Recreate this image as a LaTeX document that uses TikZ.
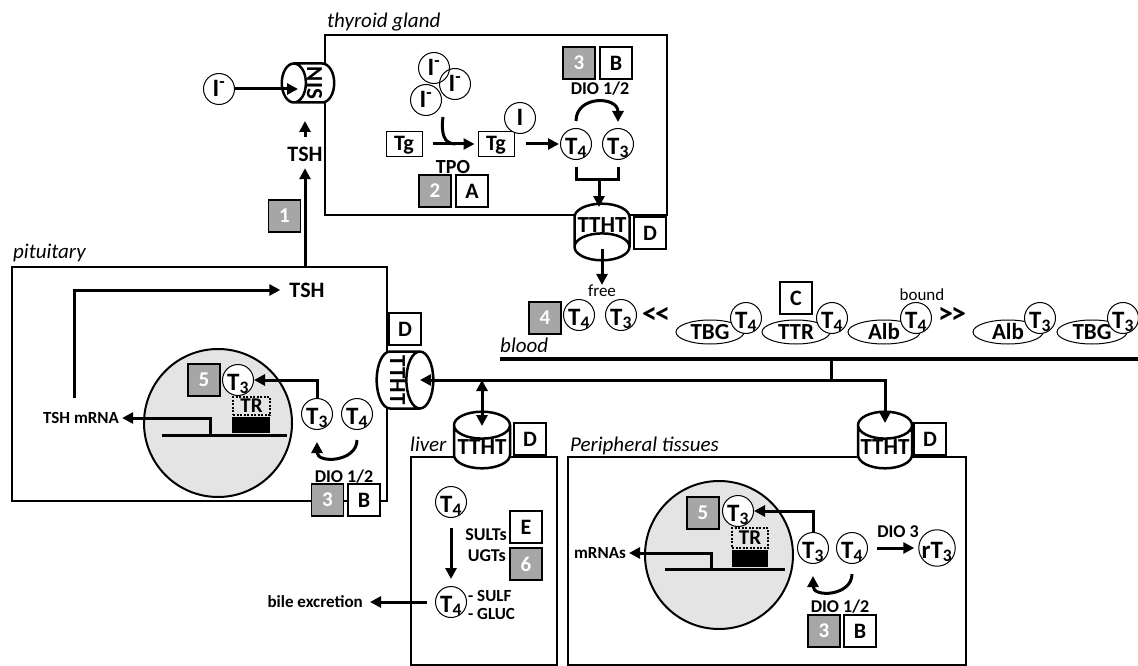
\documentclass[tikz,border=0pt]{standalone}
\usepackage{fontspec}
\setmainfont{Carlito}
\usetikzlibrary{shapes.geometric,arrows.meta,calc}
\definecolor{boxgray}{RGB}{166,166,166}
\definecolor{nucgray}{RGB}{228,228,228}
\newcommand{\hT}[1]{T\textsubscript{#1}}
\newcommand{\ionI}{I\textsuperscript{-}}
\tikzset{
  region/.style={draw, line width=2pt, inner sep=0pt},
  regionname/.style={anchor=base west, inner sep=0pt, font=\fontsize{21}{24}\selectfont\itshape},
  letterbox/.style={draw, line width=1.6pt, fill=white, minimum size=32pt, inner sep=0pt, font=\fontsize{22}{24}\selectfont\bfseries},
  numbox/.style={letterbox, fill=boxgray, text=white, font=\fontsize{21}{24}\selectfont\bfseries},
  hormone/.style={circle, draw, line width=1pt, fill=white, minimum size=31pt, inner sep=0pt, text height=20pt, text depth=0pt, font=\fontsize{25}{26}\selectfont\bfseries},
  iodide/.style={hormone, fill=none, text height=15pt},
  carrier/.style={ellipse, draw, line width=1pt, fill=white, inner sep=0pt, minimum width=68pt, minimum height=24pt, text height=14pt, text depth=0pt, font=\fontsize{23}{24}\selectfont\bfseries},
  transporter/.style={cylinder, draw, line width=2.5pt, fill=white, inner sep=0pt, aspect=0.55, anchor=shape center, text height=15pt, text depth=0pt, font=\fontsize{23}{24}\selectfont\bfseries},
  tgbox/.style={draw, line width=1pt, minimum width=36pt, minimum height=25pt, inner sep=0pt, text height=14pt, text depth=0pt, font=\fontsize{22}{24}\selectfont\bfseries},
  bigl/.style={inner sep=0pt, text height=14pt, text depth=0pt, font=\fontsize{22}{24}\selectfont\bfseries},
  compare/.style={inner sep=0pt, font=\fontsize{30}{32}\selectfont\bfseries},
  lbl/.style={inner sep=0pt, font=\fontsize{17}{20}\selectfont\bfseries},
  diol/.style={inner sep=0pt, font=\fontsize{18}{20}\selectfont\bfseries},
  smalltext/.style={inner sep=0pt, font=\fontsize{17}{20}\selectfont},
  receptor/.style={draw, dash pattern=on 2pt off 1.5pt, line width=1.5pt, minimum width=37pt, minimum height=18pt, inner sep=0pt, text height=13pt, text depth=0pt, font=\fontsize{21}{24}\selectfont\bfseries},
  gene/.style={fill=black, minimum width=38pt, minimum height=16pt, inner sep=0pt},
  nucleus/.style={circle, draw, fill=nucgray, line width=2pt, minimum size=148pt, inner sep=0pt},
  arr/.style={line width=3pt, -{Triangle[length=11pt,width=11pt]}},
  dblarr/.style={line width=3pt, {Triangle[length=11pt,width=11pt]}-{Triangle[length=11pt,width=11pt]}},
}
\begin{document}
\begin{tikzpicture}[x=1pt,y=-1pt]
\useasboundingbox (0,0) rectangle (1138,666);
% regions
\node[region, minimum width=342pt, minimum height=180pt] (thy) at (496,125) {};
\node[regionname] (thyname) at (327,28) {thyroid gland};
\node[region, minimum width=375pt, minimum height=234pt] (pit) at (199.5,384) {};
\node[regionname] (pitname) at (13,258) {pituitary};
\node[region, minimum width=146pt, minimum height=208pt] (liv) at (484,561) {};
\node[regionname] (livname) at (410,451) {liver};
\node[region, minimum width=398pt, minimum height=208pt] (per) at (767,561) {};
\node[regionname] (pername) at (570,451) {Peripheral tissues};

% thyroid gland
\node[iodide] (iout) at (219,89) {\ionI};
\node[transporter, aspect=0.75, rotate=-90, shape border rotate=270, minimum width=39pt, minimum height=48pt] (nis) at (308,83) {NIS};
\node[bigl] (tshthy) at (305,154) {TSH};
\node[numbox] (n1) at (284.5,216) {1};
\node[iodide] (ia) at (434,68) {\ionI};
\node[iodide] (ib) at (455,84) {\ionI};
\node[iodide] (ic) at (426,100) {\ionI};
\node[tgbox] (tga) at (404,144) {Tg};
\node[tgbox] (tgb) at (496,144) {Tg};
\node[iodide, fill=white] (iod) at (520,118) {I};
\node[hormone] (t4thy) at (576,144) {\hT{4}};
\node[hormone] (t3thy) at (618,144) {\hT{3}};
\node[diol] (diothy) at (600,89) {DIO 1/2};
\node[numbox] (n3thy) at (579,63) {3};
\node[letterbox] (bthy) at (616,63) {B};
\node[bigl, font=\fontsize{20}{22}\selectfont\bfseries] (tpo) at (453,167) {TPO};
\node[numbox] (n2) at (435,191) {2};
\node[letterbox] (la) at (472,191) {A};
\node[transporter, shape border rotate=270, minimum width=55pt, minimum height=49pt] (ttthy) at (602,232) {TTHT};
\node[letterbox] (dthy) at (650,233) {D};
\coordinate (brk) at (599,179);
\draw[arr, shorten >=10pt] (iout.east) -- (iout -| nis.shape center);
\draw[arr, shorten <=10pt, shorten >=38pt] (tshthy.north) -- (tshthy.north |- nis.shape center);
\draw[arr, shorten >=7pt] (tshthy |- pit.north) -- (tshthy.south);
\draw[arr, shorten <=10pt, shorten >=3pt] (tga) -- (tgb);
\draw[line width=3pt] ([shift={(17,17)}]ic.center) .. controls +(-2,16) and +(-12,0) .. ($(tga.east)!0.6!(tgb.west)$);
\draw[arr, shorten <=11pt, shorten >=1pt] (tgb) -- (t4thy);
\draw[arr] ([yshift=7pt]t4thy.north) .. controls +(0,-26) and +(0,-26) .. ([yshift=6pt]t3thy.north);
\draw[line width=3pt] ([yshift=-7pt]t4thy.south) -- (t4thy.south |- brk) -- (t3thy.south |- brk) -- ([yshift=-7pt]t3thy.south);
\draw[arr, shorten >=25pt] (brk) -- (brk |- ttthy.shape center);

% pituitary
\node[bigl] (tshpit) at (307,290) {TSH};
\node[lbl] (tshm) at (81,418) {TSH mRNA};
\coordinate (mstart) at (74,398);
\draw[arr, shorten >=9pt] (mstart) |- (tshpit.west);
\node[nucleus] (nucp) at (218,423) {};
\coordinate (gpa) at (162,435);
\coordinate (gpb) at (287,435);
\coordinate (gbp) at (210,435);
\node[gene] (repp) at (251,425) {};
\node[receptor] (trp) at (251.5,406) {TR};
\draw[line width=3pt] (gpa) -- (gpb);
\draw[arr, shorten >=3pt] (gbp) |- (tshm.east);
\node[numbox] (n5p) at (204,380) {5};
\node[hormone] (t3np) at (238,380) {\hT{3}};
\node[hormone] (t3p) at (317,414) {\hT{3}};
\node[hormone] (t4p) at (357,414) {\hT{4}};
\draw[arr] (t3p.north) |- (t3np.east);
\draw[arr] ([yshift=-10pt]t4p.south) .. controls +(0,22) and +(0,22) .. ([yshift=-12pt]t3p.south);
\node[diol] (diop) at (344,477) {DIO 1/2};
\node[numbox] (n3p) at (327.5,500) {3};
\node[letterbox] (bp) at (364,500) {B};
\node[transporter, rotate=-90, shape border rotate=90, minimum width=57pt, minimum height=46pt] (ttpit) at (405,380) {TTHT};
\node[letterbox] (dpit) at (405,329) {D};

% blood
\coordinate (bla) at (500,359);
\coordinate (blb) at (1138,359);
\draw[line width=3.5pt] (bla) -- (blb);
\node[regionname] (bloodname) at (500,352) {blood};
\node[smalltext] (free) at (602,291) {free};
\draw[arr, shorten <=17pt] (ttthy.shape center) -- (ttthy.shape center |- free.north);
\node[numbox] (n4) at (545,318) {4};
\node[hormone] (t4fr) at (579,315) {\hT{4}};
\node[hormone] (t3fr) at (621,315) {\hT{3}};
\node[compare] (lless) at (656,315) {<\kern-2pt<};
\node[carrier] (tbga) at (710,332) {TBG};
\node[hormone] (t4tbg) at (746,318) {\hT{4}};
\node[carrier] (ttr) at (796,332) {TTR};
\node[hormone] (t4ttr) at (832,318) {\hT{4}};
\node[letterbox] (lc) at (796,298) {C};
\node[carrier, minimum width=72pt] (alba) at (884,332) {Alb};
\node[hormone] (t4alb) at (916,318) {\hT{4}};
\node[smalltext] (bound) at (922,295) {bound};
\node[compare] (lmore) at (952,315) {>\kern-2pt>};
\node[carrier, minimum width=70pt] (albb) at (1008,332) {Alb};
\node[hormone] (t3alb) at (1040,318) {\hT{3}};
\node[carrier, minimum width=70pt] (tbgb) at (1092,332) {TBG};
\node[hormone] (t3tbg) at (1123,318) {\hT{3}};

% distribution
\node[transporter, shape border rotate=90, minimum width=56pt, minimum height=44pt] (ttliv) at (482,440) {TTHT};
\node[letterbox] (dliv) at (530,439) {D};
\node[transporter, shape border rotate=90, minimum width=54pt, minimum height=46pt] (ttper) at (885,440) {TTHT};
\node[letterbox] (dper) at (930,439) {D};
\coordinate (junc) at (831,380);
\draw[line width=3pt] (junc |- bla) -- (junc);
\draw[arr, shorten >=15pt] (junc) -- (ttpit.shape center);
\draw[arr, shorten >=17pt] (junc) -| (ttper.shape center);
\draw[dblarr, shorten >=14pt] (junc -| ttliv.shape center) -- (ttliv.shape center);

% liver
\node[hormone] (t4la) at (451,502) {\hT{4}};
\node[hormone] (t4lb) at (451,602) {\hT{4}};
\node[diol, anchor=east] (sults) at (507,535) {SULTs};
\node[letterbox] (le) at (526,527) {E};
\node[diol, anchor=east] (ugts) at (506,556) {UGTs};
\node[numbox] (n6) at (526,564) {6};
\node[lbl, anchor=west] (sulf) at (468,596) {- SULF};
\node[lbl, anchor=west] (gluc) at (468,614) {- GLUC};
\node[lbl, anchor=east] (bile) at (363,602) {bile excretion};
\draw[arr, shorten <=10pt, shorten >=7pt] (t4la) -- (t4lb);
\draw[arr, shorten <=8pt, shorten >=7pt] (t4lb) -- (bile);

% peripheral tissues
\node[nucleus] (nucper) at (719,555) {};
\coordinate (gqa) at (665,569);
\coordinate (gqb) at (785,569);
\coordinate (gbq) at (711,569);
\node[gene, minimum width=36pt, minimum height=17pt] (repper) at (750,558.5) {};
\node[receptor, minimum width=36pt, minimum height=20pt] (trper) at (750,538) {TR};
\draw[line width=3pt] (gqa) -- (gqb);
\node[lbl] (mrnas) at (600,553) {mRNAs};
\draw[arr, shorten >=3pt] (gbq) |- (mrnas.east);
\node[numbox] (n5per) at (703,513) {5};
\node[hormone] (t3nper) at (738,511) {\hT{3}};
\node[hormone] (t3per) at (813,548) {\hT{3}};
\node[hormone] (t4per) at (852,548) {\hT{4}};
\node[hormone] (rt3) at (937,548) {r\hT{3}};
\draw[arr] (t3per.north) |- (t3nper.east);
\draw[arr] ([yshift=-10pt]t4per.south) .. controls +(0,22) and +(0,22) .. ([yshift=-12pt]t3per.south);
\node[diol] (dio3) at (898,532) {DIO 3};
\draw[arr, shorten <=9pt, shorten >=4pt] (t4per) -- (rt3);
\node[diol] (dioper) at (840,607) {DIO 1/2};
\node[numbox] (n3per) at (824,631) {3};
\node[letterbox] (bper) at (860,631) {B};
\end{tikzpicture}
\end{document}
